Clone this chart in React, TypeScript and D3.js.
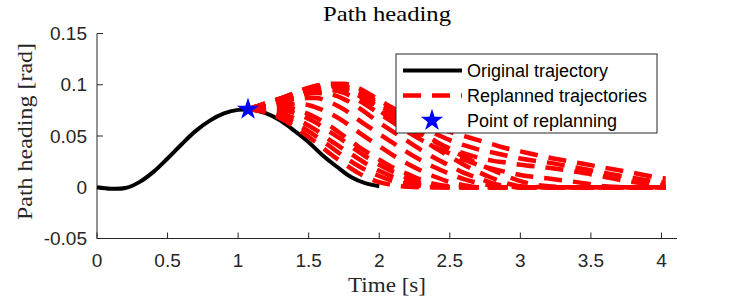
import React from 'react';
import * as d3 from 'd3';

const width = 747;
const height = 300;
const margin = { top: 33.5, right: 70, bottom: 61.5, left: 97 };

const xTicks = [0, 0.5, 1, 1.5, 2, 2.5, 3, 3.5, 4];
const yTicks = [-0.05, 0, 0.05, 0.1, 0.15];

// original trajectory
const originalTime = [0, 0.1, 0.2, 0.3, 0.4, 0.5, 0.6, 0.7, 0.8, 0.9, 1.0, 1.1, 1.2, 1.3, 1.4, 1.5, 1.6, 1.7, 1.8, 1.9, 2.0];
const originalHeading = [0, -0.0015, -0.0008, 0.005, 0.015, 0.028, 0.042, 0.055, 0.065, 0.072, 0.0755, 0.0755, 0.072, 0.065, 0.055, 0.044, 0.031, 0.02, 0.01, 0.004, 0.001];

// replanned trajectories, all on the same time grid
const replanTime = [1.07, 1.2, 1.33, 1.45, 1.55, 1.65, 1.75, 1.85, 2.0, 2.1, 2.2, 2.3, 2.4, 2.5, 2.6, 2.7, 2.8, 2.9, 3.0, 3.2, 3.4, 3.6, 3.8, 4.0, 4.03];
const replanA = [0.076, 0.073, 0.065, 0.054, 0.044, 0.033, 0.023, 0.014, 0.005, 0.002, 0.0005, 0, 0, 0, 0, 0, 0, 0, 0, 0, 0, 0, 0, 0, 0];
const replanA2 = [0.076, 0.074, 0.068, 0.059, 0.05, 0.04, 0.03, 0.021, 0.011, 0.006, 0.003, 0.001, 0, 0, 0, 0, 0, 0, 0, 0, 0, 0, 0, 0, 0];
const replanB = [0.076, 0.075, 0.071, 0.064, 0.056, 0.046, 0.037, 0.028, 0.016, 0.01, 0.005, 0.002, 0.0005, 0, 0, 0, 0, 0, 0, 0, 0, 0, 0, 0, 0];
const replanB2 = [0.076, 0.077, 0.075, 0.07, 0.063, 0.054, 0.045, 0.035, 0.022, 0.015, 0.009, 0.004, 0.0015, 0, 0, 0, 0, 0, 0, 0, 0, 0, 0, 0, 0];
const replanC = [0.076, 0.078, 0.078, 0.074, 0.068, 0.06, 0.05, 0.04, 0.027, 0.019, 0.013, 0.007, 0.003, 0.001, 0, 0, 0, 0, 0, 0, 0, 0, 0, 0, 0];
const replanC2 = [0.076, 0.079, 0.081, 0.081, 0.078, 0.072, 0.064, 0.054, 0.04, 0.031, 0.023, 0.016, 0.01, 0.005, 0.002, 0, 0, 0, 0, 0, 0, 0, 0, 0, 0];
const replanD = [0.076, 0.08, 0.084, 0.087, 0.087, 0.083, 0.076, 0.066, 0.052, 0.043, 0.034, 0.026, 0.019, 0.013, 0.008, 0.004, 0.0015, 0, 0, 0, 0, 0, 0, 0, 0];
const replanD2 = [0.076, 0.081, 0.086, 0.09, 0.092, 0.091, 0.086, 0.078, 0.063, 0.054, 0.045, 0.036, 0.028, 0.021, 0.014, 0.009, 0.004, 0.001, 0, 0, 0, 0, 0, 0, 0];
const replanE = [0.076, 0.082, 0.088, 0.094, 0.098, 0.1, 0.097, 0.09, 0.075, 0.065, 0.056, 0.047, 0.038, 0.03, 0.022, 0.015, 0.009, 0.004, 0.001, 0, 0, 0, 0, 0, 0];
const replanE2 = [0.076, 0.082, 0.088, 0.093, 0.097, 0.099, 0.098, 0.093, 0.08, 0.071, 0.062, 0.053, 0.045, 0.037, 0.03, 0.023, 0.017, 0.011, 0.006, 0.001, 0, 0, 0, 0, 0];
const replanF = [0.076, 0.081, 0.086, 0.091, 0.094, 0.095, 0.092, 0.085, 0.072, 0.063, 0.054, 0.046, 0.039, 0.033, 0.027, 0.022, 0.018, 0.015, 0.012, 0.0085, 0.005, 0.001, 0, 0, 0];
const replanG = [0.076, 0.082, 0.087, 0.093, 0.096, 0.098, 0.096, 0.09, 0.078, 0.069, 0.06, 0.052, 0.044, 0.038, 0.033, 0.029, 0.026, 0.024, 0.022, 0.019, 0.015, 0.01, 0.005, 0.002, 0.0018];
const replanG2 = [0.076, 0.082, 0.088, 0.094, 0.098, 0.1, 0.099, 0.094, 0.082, 0.074, 0.066, 0.058, 0.052, 0.046, 0.041, 0.037, 0.034, 0.031, 0.028, 0.024, 0.019, 0.014, 0.009, 0.005, 0.0045];
const replanH = [0.076, 0.082, 0.088, 0.095, 0.099, 0.101, 0.101, 0.097, 0.085, 0.077, 0.07, 0.064, 0.059, 0.054, 0.05, 0.046, 0.042, 0.038, 0.035, 0.029, 0.024, 0.019, 0.014, 0.009, 0.0085];
const replanned = [
  replanA, replanA2, replanB, replanB2, replanC, replanC2, replanD,
  replanD2, replanE, replanE2, replanF, replanG, replanG2, replanH,
];

const replanPoint = { t: 1.07, heading: 0.076 };

const legendLabels = ['Original trajectory', 'Replanned trajectories', 'Point of replanning'];

const axisColor = '#262626';
const sans = '"Liberation Sans", Arial, Helvetica, sans-serif';
const serif = '"Liberation Serif", "Times New Roman", serif';

const App: React.FC = () => {
  const innerW = width - margin.left - margin.right;
  const innerH = height - margin.top - margin.bottom;

  const x = d3.scaleLinear().domain([0, 4.11]).range([margin.left, margin.left + innerW]);
  const y = d3.scaleLinear().domain([-0.05, 0.15]).range([margin.top + innerH, margin.top]);

  const smooth = d3
    .line<[number, number]>()
    .x((d) => x(d[0]))
    .y((d) => y(d[1]))
    .curve(d3.curveCatmullRom);

  const line = d3
    .line<[number, number]>()
    .x((d) => x(d[0]))
    .y((d) => y(d[1]))
    .curve(d3.curveMonotoneX);

  const originalPath = smooth(originalTime.map((t, i) => [t, originalHeading[i]]));
  const replanPaths = replanned.map((s) => line(replanTime.map((t, i) => [t, s[i]])));

  const star = d3.symbol(d3.symbolStar, 155)();

  const x0 = x(0);
  const x1 = x(4.11);
  const yb = y(-0.05);

  const lg = { x: 396, y: 54, w: 261, h: 79 };

  return (
    <svg
      width={width}
      height={height}
      style={{ position: 'absolute', left: 0, top: 0, background: '#fff' }}
    >
      <rect width={width} height={height} fill="#fff" />

      {/* title */}
      <text
        x={387}
        y={21}
        textAnchor="middle"
        fontFamily={serif}
        fontSize={22}
        textLength={128}
        lengthAdjust="spacingAndGlyphs"
        fill="#000"
      >
        Path heading
      </text>

      {/* axes */}
      <line x1={x0} x2={x1} y1={yb} y2={yb} stroke={axisColor} strokeWidth={1} />
      <line x1={x0} x2={x0} y1={y(0.15)} y2={yb} stroke={axisColor} strokeWidth={1} />
      {xTicks.map((t) => (
        <g key={`xt${t}`}>
          <line x1={x(t)} x2={x(t)} y1={yb} y2={yb - 6} stroke={axisColor} />
          <text x={x(t)} y={267} textAnchor="middle" fontFamily={sans} fontSize={19} fill={axisColor}>
            {String(t)}
          </text>
        </g>
      ))}
      {yTicks.map((t) => (
        <g key={`yt${t}`}>
          <line x1={x0} x2={x0 + 6} y1={y(t)} y2={y(t)} stroke={axisColor} />
          <text x={87} y={y(t) + 6.5} textAnchor="end" fontFamily={sans} fontSize={19} fill={axisColor}>
            {String(t)}
          </text>
        </g>
      ))}

      <text
        x={387}
        y={292}
        textAnchor="middle"
        fontFamily={serif}
        fontSize={22}
        textLength={78}
        lengthAdjust="spacingAndGlyphs"
        fill={axisColor}
      >
        Time [s]
      </text>
      <text
        transform={`translate(32,${131.5}) rotate(-90)`}
        textAnchor="middle"
        fontFamily={serif}
        fontSize={22}
        textLength={177}
        lengthAdjust="spacingAndGlyphs"
        fill={axisColor}
      >
        Path heading [rad]
      </text>

      {/* data */}
      <path d={originalPath ?? ''} fill="none" stroke="#000" strokeWidth={4} />
      {replanPaths.map((p, i) => (
        <path
          key={`r${i}`}
          d={p ?? ''}
          fill="none"
          stroke="#ff0000"
          strokeWidth={4.5}
          strokeDasharray="18 11"
        />
      ))}
      <path
        d={star ?? ''}
        transform={`translate(${x(replanPoint.t)},${y(replanPoint.heading)})`}
        fill="#0000ff"
      />

      {/* legend */}
      <rect x={lg.x} y={lg.y} width={lg.w} height={lg.h} fill="#fff" stroke={axisColor} strokeWidth={1} />
      <line x1={403} x2={462} y1={70.5} y2={70.5} stroke="#000" strokeWidth={4} />
      <line x1={403} x2={462} y1={95.5} y2={95.5} stroke="#ff0000" strokeWidth={4.5} strokeDasharray="18 11" />
      <path d={star ?? ''} transform="translate(432,120.5)" fill="#0000ff" />
      {legendLabels.map((l, i) => (
        <text key={l} x={467} y={70.5 + i * 25 + 6.5} fontFamily={sans} fontSize={18} fill="#000">
          {l}
        </text>
      ))}
    </svg>
  );
};

export default App;
